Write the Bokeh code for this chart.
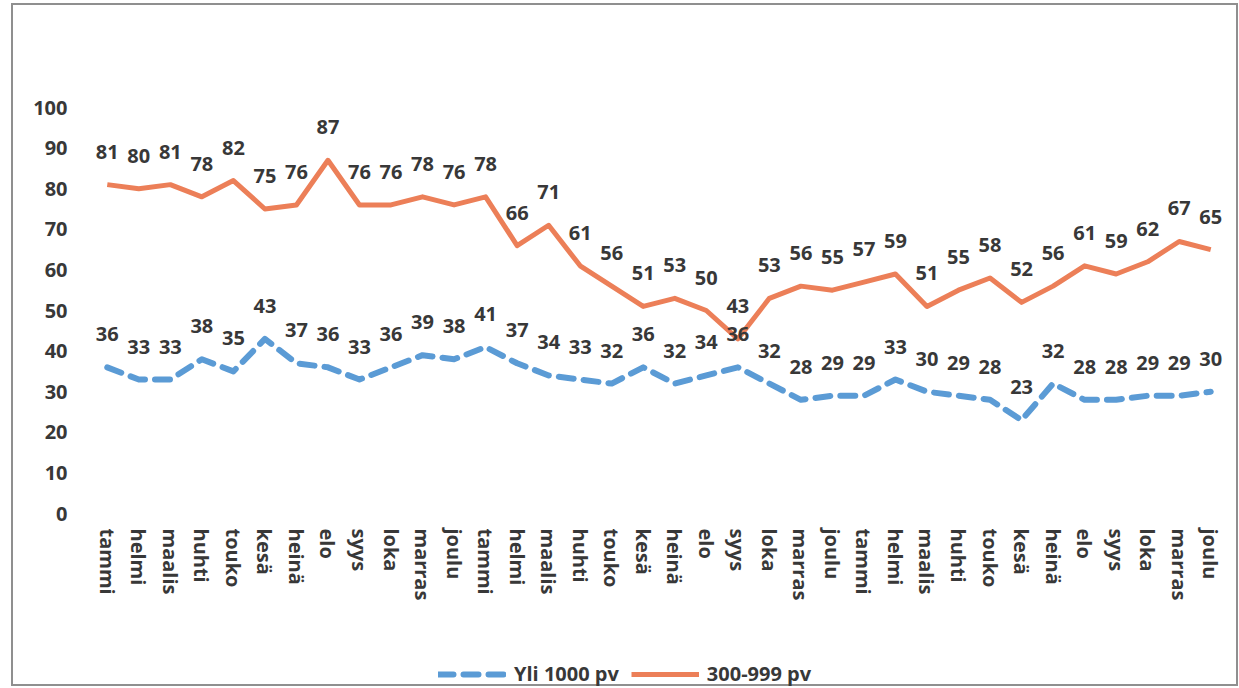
from bokeh.plotting import figure
from bokeh.layouts import column
from bokeh.models import (Range1d, FixedTicker, Legend, LegendItem,
                          ColumnDataSource)
from bokeh.core.properties import value
from bokeh.embed import file_html
from bokeh.resources import INLINE

# ---- data ----
month_labels = ["tammi", "helmi", "maalis", "huhti", "touko", "kesä",
                "heinä", "elo", "syys", "loka", "marras", "joulu",
                "tammi", "helmi", "maalis", "huhti", "touko", "kesä",
                "heinä", "elo", "syys", "loka", "marras", "joulu",
                "tammi", "helmi", "maalis", "huhti", "touko", "kesä",
                "heinä", "elo", "syys", "loka", "marras", "joulu"]
yli_1000 = [36, 33, 33, 38, 35, 43, 37, 36, 33, 36, 39, 38,
            41, 37, 34, 33, 32, 36, 32, 34, 36, 32, 28, 29,
            29, 33, 30, 29, 28, 23, 32, 28, 28, 29, 29, 30]
v300_999 = [81, 80, 81, 78, 82, 75, 76, 87, 76, 76, 78, 76,
            78, 66, 71, 61, 56, 51, 53, 50, 43, 53, 56, 55,
            57, 59, 51, 55, 58, 52, 56, 61, 59, 62, 67, 65]
series_names = ["Yli 1000 pv", "300-999 pv"]
y_ticks = [0, 10, 20, 30, 40, 50, 60, 70, 80, 90, 100]

FONT = value("Open Sans")
TXT = "#383838"
BLUE = "#5B9BD5"
ORANGE = "#EC7F58"
W = 1239
H_MAIN = 645
H_LEG = 43

xs = list(range(len(month_labels)))
src = ColumnDataSource(dict(
    x=xs, yli=yli_1000, v300=v300_999,
    yli_txt=[str(v) for v in yli_1000],
    v300_txt=[str(v) for v in v300_999],
))

blue_style = dict(line_color=BLUE, line_width=6, line_dash="15 10",
                  line_cap="round", line_join="round")
orange_style = dict(line_color=ORANGE, line_width=5, line_join="round")

# ---- main chart ----
p = figure(width=W, height=H_MAIN, output_backend="svg", toolbar_location=None,
           x_range=Range1d(-0.5, len(month_labels) - 0.5), y_range=Range1d(0, 100),
           min_border_left=91, min_border_right=13, min_border_top=107,
           min_border_bottom=H_MAIN - 513)
p.outline_line_color = None
p.grid.visible = False
p.background_fill_color = None
p.border_fill_color = None

p.xaxis.ticker = FixedTicker(ticks=xs)
p.xaxis.major_label_overrides = {i: lab for i, lab in enumerate(month_labels)}
p.xaxis.major_label_orientation = "vertical"
p.yaxis.ticker = FixedTicker(ticks=y_ticks)
for ax in (p.xaxis, p.yaxis):
    ax.axis_line_color = None
    ax.major_tick_line_color = None
    ax.minor_tick_line_color = None
    ax.major_tick_out = 0
    ax.major_tick_in = 0
    ax.major_label_text_font = "Open Sans"
    ax.major_label_text_font_style = "bold"
    ax.major_label_text_font_size = "20px"
    ax.major_label_text_color = TXT
p.xaxis.major_label_standoff = 15
p.yaxis.major_label_standoff = 24

p.line("x", "yli", source=src, **blue_style)
p.line("x", "v300", source=src, **orange_style)

for col, txt in (("v300", "v300_txt"), ("yli", "yli_txt")):
    p.text("x", col, text=txt, source=src, y_offset=-33, text_align="center",
           text_baseline="middle", text_font=FONT, text_font_style="bold",
           text_font_size="20px", text_color=TXT)

# ---- legend strip (same series, out of view; only the legend shows) ----
pl = figure(width=W, height=H_LEG, output_backend="svg", toolbar_location=None,
            x_range=Range1d(1000, 1001), y_range=Range1d(1000, 1001),
            x_axis_location=None, y_axis_location=None,
            min_border_left=0, min_border_right=0, min_border_top=0,
            min_border_bottom=0)
pl.outline_line_color = None
pl.grid.visible = False
pl.background_fill_color = None
pl.border_fill_color = None
lb = pl.line("x", "yli", source=src, **blue_style)
lo = pl.line("x", "v300", source=src, **orange_style)

legend = Legend(items=[LegendItem(label=series_names[0], renderers=[lb]),
                       LegendItem(label=series_names[1], renderers=[lo])],
                orientation="horizontal", location=(347, 1), padding=0,
                margin=0, spacing=12, glyph_width=68, glyph_height=20,
                label_height=20, label_standoff=8,
                label_text_font="Open Sans", label_text_font_style="bold",
                label_text_font_size="20px", label_text_color=TXT,
                background_fill_alpha=0, border_line_color=None)
pl.add_layout(legend)

G = "linear-gradient(#8f8f8f,#8f8f8f)"
frame_bg = ", ".join([
    f"{G} 11px 3px / 2px 683px no-repeat",
    f"{G} 1236px 3px / 2px 683px no-repeat",
    f"{G} 11px 3px / 1227px 2px no-repeat",
    f"{G} 11px 684px / 1227px 2px no-repeat",
    "white",
])
layout = column(p, pl, spacing=0, styles={"background": frame_bg})

open("out.html", "w").write(file_html(layout, INLINE))
